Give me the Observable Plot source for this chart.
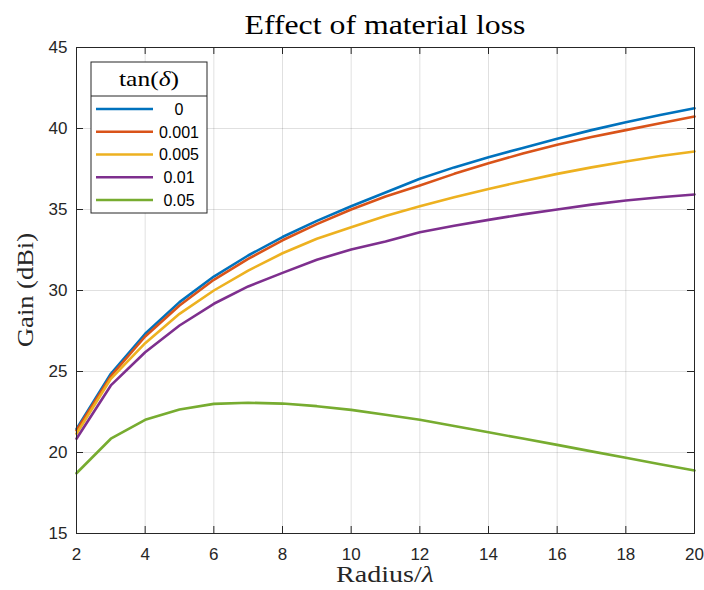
<!DOCTYPE html>
<html><head><meta charset="utf-8">
<script src="https://cdn.jsdelivr.net/npm/d3@7"></script>
<script src="https://cdn.jsdelivr.net/npm/@observablehq/plot@0.6"></script>
<style>body{margin:0;background:#fff}</style>
</head><body><div id="chart"></div><script>
const radius = [2,3,4,5,6,7,8,9,10,11,12,13,14,15,16,17,18,19,20];
const gainLoss0     = [21.45,24.86,27.33,29.28,30.86,32.16,33.30,34.30,35.20,36.05,36.90,37.60,38.23,38.80,39.36,39.90,40.39,40.83,41.25];
const gainLoss0001  = [21.36,24.71,27.16,29.07,30.66,31.95,33.10,34.10,35.00,35.80,36.48,37.20,37.86,38.45,39.00,39.47,39.90,40.33,40.74];
const gainLoss0005  = [21.16,24.55,26.75,28.56,30.00,31.23,32.30,33.19,33.90,34.60,35.20,35.75,36.27,36.75,37.20,37.60,37.96,38.30,38.58];
const gainLoss001   = [20.85,24.14,26.19,27.84,29.18,30.25,31.09,31.90,32.53,33.02,33.60,34.00,34.36,34.70,35.00,35.30,35.56,35.76,35.93];
const gainLoss005   = [18.72,20.85,22.02,22.65,23.00,23.07,23.02,22.86,22.63,22.33,22.02,21.64,21.25,20.86,20.47,20.07,19.67,19.28,18.89];
const lossLabels = ["0","0.001","0.005","0.01","0.05"];
const seriesColors = ["#0072BD","#D95319","#EDB120","#7E2F8E","#77AC30"];
const xTicks = [2,4,6,8,10,12,14,16,18,20];
const yTicks = [15,20,25,30,35,40,45];

const allSeries = [gainLoss0, gainLoss0001, gainLoss0005, gainLoss001, gainLoss005];
const data = allSeries.flatMap((s, i) => s.map((g, j) => ({r: radius[j], g, loss: lossLabels[i]})));

const W = 704, H = 590, mL = 76, mR = 10, mT = 47, mB = 57;
const pw = W - mL - mR, ph = H - mT - mB;
const axisColor = "#262626";
const tickLen = 7;

const chart = Plot.plot({
  width: W, height: H,
  marginLeft: mL, marginRight: mR, marginTop: mT, marginBottom: mB,
  x: {domain: [2, 20]},
  y: {domain: [15, 45]},
  color: {domain: lossLabels, range: seriesColors},
  style: {fontFamily: "'Liberation Sans', Arial, sans-serif", fontSize: "17px", color: axisColor, background: "#fff"},
  marks: [
    Plot.gridX(xTicks, {stroke: "#000", strokeOpacity: 0.12, strokeWidth: 1}),
    Plot.gridY(yTicks, {stroke: "#000", strokeOpacity: 0.12, strokeWidth: 1}),
    Plot.line(data, {x: "r", y: "g", z: "loss", stroke: "loss", strokeWidth: 2.6, strokeLinejoin: "round"}),
    Plot.frame({stroke: axisColor, strokeWidth: 1}),
    Plot.tickX(xTicks, {x: d => d, insetTop: ph - tickLen, stroke: axisColor}),
    Plot.tickX(xTicks, {x: d => d, insetBottom: ph - tickLen, stroke: axisColor}),
    Plot.tickY(yTicks, {y: d => d, insetRight: pw - tickLen, stroke: axisColor}),
    Plot.tickY(yTicks, {y: d => d, insetLeft: pw - tickLen, stroke: axisColor}),
    Plot.axisX(xTicks, {tickSize: 0, tickPadding: 14, label: null, fontSize: 17, fill: axisColor}),
    Plot.axisY(yTicks, {tickSize: 0, tickPadding: 9, label: null, fontSize: 17, fill: axisColor})
  ]
});
document.getElementById("chart").append(chart);

const svg = d3.select(chart);
const serif = "'Liberation Serif', 'DejaVu Serif', serif";
svg.append("text").attr("x", mL + pw / 2).attr("y", 34).attr("text-anchor", "middle")
  .attr("font-family", serif).attr("font-size", 28).attr("fill", "#000")
  .attr("textLength", 281).attr("lengthAdjust", "spacingAndGlyphs").text("Effect of material loss");
svg.append("text").attr("x", mL + pw / 2).attr("y", 582).attr("text-anchor", "middle")
  .attr("font-family", serif).attr("font-size", 23).attr("fill", axisColor)
  .attr("textLength", 98).attr("lengthAdjust", "spacingAndGlyphs")
  .call(t => { t.append("tspan").text("Radius/"); t.append("tspan").attr("font-style", "italic").text("λ"); });
svg.append("text").attr("transform", `translate(33,${mT + ph / 2}) rotate(-90)`).attr("text-anchor", "middle")
  .attr("font-family", serif).attr("font-size", 23).attr("fill", axisColor)
  .attr("textLength", 114).attr("lengthAdjust", "spacingAndGlyphs").text("Gain (dBi)");

// legend
const lg = svg.append("g");
const bx = 91, by = 62, bw = 116, bh = 151, divY = 96;
lg.append("rect").attr("x", bx).attr("y", by).attr("width", bw).attr("height", bh)
  .attr("fill", "#fff").attr("stroke", axisColor).attr("stroke-width", 1);
lg.append("line").attr("x1", bx).attr("x2", bx + bw).attr("y1", divY).attr("y2", divY)
  .attr("stroke", axisColor).attr("stroke-width", 1);
lg.append("text").attr("x", bx + bw / 2).attr("y", 86).attr("text-anchor", "middle")
  .attr("font-family", serif).attr("font-size", 21).attr("fill", "#000")
  .attr("textLength", 60).attr("lengthAdjust", "spacingAndGlyphs")
  .call(t => { t.append("tspan").text("tan("); t.append("tspan").attr("font-style", "italic").text("δ"); t.append("tspan").text(")"); });
lossLabels.forEach((lab, i) => {
  const yy = 109 + i * 22.75;
  lg.append("line").attr("x1", 96).attr("x2", 153).attr("y1", yy).attr("y2", yy)
    .attr("stroke", seriesColors[i]).attr("stroke-width", 2.6);
  lg.append("text").attr("x", 179).attr("y", yy).attr("dy", "0.36em").attr("text-anchor", "middle")
    .attr("font-family", "'Liberation Sans', Arial, sans-serif").attr("font-size", 16).attr("fill", "#000").text(lab);
});
</script></body></html>
